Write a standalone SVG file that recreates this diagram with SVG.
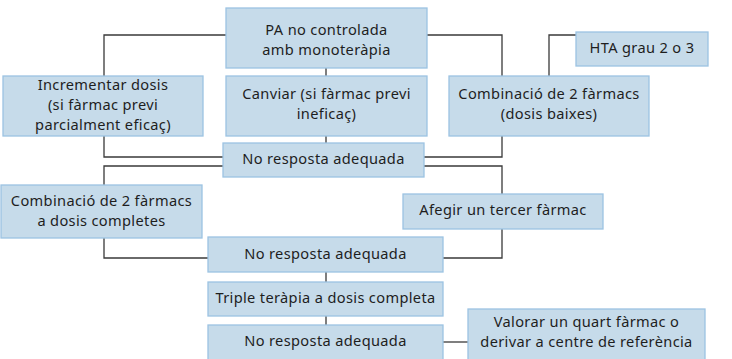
<svg xmlns="http://www.w3.org/2000/svg" width="732" height="359" viewBox="0 0 732 359">
<style>
.b{fill:#c6dbea;stroke:#9cc3e2;stroke-width:1.3}
.t{font-family:"Noto Sans","Open Sans",sans-serif;font-size:14.6px;letter-spacing:0.35px;fill:#1e1e1e;text-anchor:middle}
.c{fill:none;stroke:#3a3a3a;stroke-width:1.3}
</style>
<rect width="732" height="359" fill="#fff"/>
<g id="connectors">
<path class="c" d="M226,35H104V76"/>
<path class="c" d="M427,35H502V76"/>
<path class="c" d="M576,35H549V76"/>
<path class="c" d="M326,68V76M326,136V143"/>
<path class="c" d="M104,136V157H223"/>
<path class="c" d="M502,136V157H424"/>
<path class="c" d="M223,166H104V185"/>
<path class="c" d="M424,166H502V194"/>
<path class="c" d="M104,238V258H208"/>
<path class="c" d="M502,229V258H443"/>
<path class="c" d="M326,272V282M326,316V325"/>
<path class="c" d="M443,342H468"/>
</g>
<g id="pa"><rect class="b" x="226" y="8" width="201" height="60"/><text class="t" x="326.5" y="35">PA no controlada</text><text class="t" x="326.5" y="55">amb monoteràpia</text></g>
<g id="hta"><rect class="b" x="576" y="32" width="132" height="34"/><text class="t" x="642" y="53">HTA grau 2 o 3</text></g>
<g id="incrementar"><rect class="b" x="3" y="76" width="200" height="60"/><text class="t" x="103" y="90">Incrementar dosis</text><text class="t" x="103" y="110">(si fàrmac previ</text><text class="t" x="103" y="130">parcialment eficaç)</text></g>
<g id="canviar"><rect class="b" x="226" y="76" width="201" height="60"/><text class="t" x="326.5" y="99">Canviar (si fàrmac previ</text><text class="t" x="326.5" y="119">ineficaç)</text></g>
<g id="combinacio-baixes"><rect class="b" x="449" y="76" width="200" height="60"/><text class="t" x="549" y="99">Combinació de 2 fàrmacs</text><text class="t" x="549" y="119">(dosis baixes)</text></g>
<g id="noresposta1"><rect class="b" x="223" y="143" width="201" height="34"/><text class="t" x="323.5" y="164">No resposta adequada</text></g>
<g id="combinacio-completes"><rect class="b" x="1" y="185" width="201" height="53"/><text class="t" x="101.5" y="206">Combinació de 2 fàrmacs</text><text class="t" x="101.5" y="226">a dosis completes</text></g>
<g id="afegir"><rect class="b" x="403" y="194" width="200" height="35"/><text class="t" x="503" y="215">Afegir un tercer fàrmac</text></g>
<g id="noresposta2"><rect class="b" x="208" y="237" width="235" height="35"/><text class="t" x="325.5" y="259">No resposta adequada</text></g>
<g id="triple"><rect class="b" x="208" y="282" width="235" height="34"/><text class="t" x="325.5" y="303">Triple teràpia a dosis completa</text></g>
<g id="noresposta3"><rect class="b" x="208" y="325" width="235" height="40"/><text class="t" x="325.5" y="346">No resposta adequada</text></g>
<g id="valorar"><rect class="b" x="468" y="309" width="237" height="56"/><text class="t" x="586.5" y="327">Valorar un quart fàrmac o</text><text class="t" x="586.5" y="347">derivar a centre de referència</text></g>
</svg>
